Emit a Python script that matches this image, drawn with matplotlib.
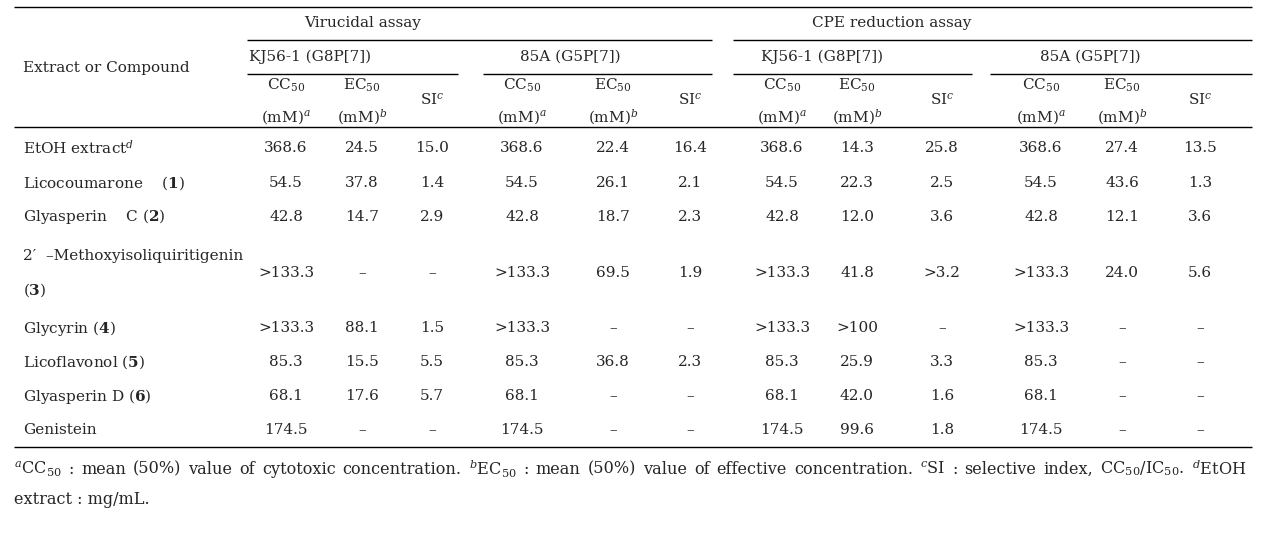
import matplotlib
matplotlib.use("Agg")
import matplotlib.pyplot as plt

plt.rcParams['font.family'] = ['DejaVu Serif']
plt.rcParams['mathtext.fontset'] = 'dejavuserif'

# ---- data ----
compounds = ["EtOH extract$^{d}$", "Licocoumarone    ($\\mathbf{1}$)", "Glyasperin    C ($\\mathbf{2}$)",
             "2\u2032  \u2013Methoxyisoliquiritigenin\n($\\mathbf{3}$)", "Glycyrin ($\\mathbf{4}$)",
             "Licoflavonol ($\\mathbf{5}$)", "Glyasperin D ($\\mathbf{6}$)", "Genistein"]
cc50 = ["368.6", "54.5", "42.8", ">133.3", ">133.3", "85.3", "68.1", "174.5"]
vir_kj_ec = ["24.5", "37.8", "14.7", "\u2013", "88.1", "15.5", "17.6", "\u2013"]
vir_kj_si = ["15.0", "1.4", "2.9", "\u2013", "1.5", "5.5", "5.7", "\u2013"]
vir_85_ec = ["22.4", "26.1", "18.7", "69.5", "\u2013", "36.8", "\u2013", "\u2013"]
vir_85_si = ["16.4", "2.1", "2.3", "1.9", "\u2013", "2.3", "\u2013", "\u2013"]
cpe_kj_ec = ["14.3", "22.3", "12.0", "41.8", ">100", "25.9", "42.0", "99.6"]
cpe_kj_si = ["25.8", "2.5", "3.6", ">3.2", "\u2013", "3.3", "1.6", "1.8"]
cpe_85_ec = ["27.4", "43.6", "12.1", "24.0", "\u2013", "\u2013", "\u2013", "\u2013"]
cpe_85_si = ["13.5", "1.3", "3.6", "5.6", "\u2013", "\u2013", "\u2013", "\u2013"]
assays = ["Virucidal assay", "CPE reduction assay"]
strains = ["KJ56-1 (G8P[7])", "85A (G5P[7])", "KJ56-1 (G8P[7])", "85A (G5P[7])"]
footnote1 = ("$^{a}$CC$_{50}$ : mean (50%) value of cytotoxic concentration. $^{b}$EC$_{50}$ : mean (50%) "
             "value of effective concentration. $^{c}$SI : selective index, CC$_{50}$/IC$_{50}$. $^{d}$EtOH")
footnote2 = "extract : mg/mL."

# ---- layout ----
W, H = 1271, 534
fig = plt.figure(figsize=(W/100, H/100), dpi=100)
ax = fig.add_axes([0, 0, 1, 1])
ax.set_xlim(0, W); ax.set_ylim(H, 0); ax.axis('off')
col = '#262626'
fs = 11

def hline(y, x0, x1):
    ax.plot([x0, x1], [y, y], color='black', lw=1.0, solid_capstyle='butt')

hline(7, 14, 1252)
hline(40, 247, 712); hline(40, 733, 1252)
spans = [(247, 458), (483, 712), (733, 972), (990, 1252)]
for s in spans:
    hline(74, *s)
hline(127, 14, 1252)
hline(447, 14, 1252)

ax.text(363, 23, assays[0], ha='center', va='center', fontsize=fs, color=col)
ax.text(892, 23, assays[1], ha='center', va='center', fontsize=fs, color=col)
centers = [310, 570, 822, 1090]
for c, s in zip(centers, strains):
    ax.text(c, 57, s, ha='center', va='center', fontsize=fs, color=col)
ax.text(23, 68, "Extract or Compound", ha='left', va='center', fontsize=fs, color=col)

colx = [(286, 362, 432), (522, 613, 690), (782, 857, 942), (1041, 1122, 1200)]
for (xc, xe, xs) in colx:
    ax.text(xc, 85, "CC$_{50}$", ha='center', va='center', fontsize=fs, color=col)
    ax.text(xc, 117, "(mM)$^{a}$", ha='center', va='center', fontsize=fs, color=col)
    ax.text(xe, 85, "EC$_{50}$", ha='center', va='center', fontsize=fs, color=col)
    ax.text(xe, 117, "(mM)$^{b}$", ha='center', va='center', fontsize=fs, color=col)
    ax.text(xs, 100, "SI$^{c}$", ha='center', va='center', fontsize=fs, color=col)

rows_y = [148, 183, 217, 273, 328, 362, 396, 430]
groups = [(vir_kj_ec, vir_kj_si), (vir_85_ec, vir_85_si), (cpe_kj_ec, cpe_kj_si), (cpe_85_ec, cpe_85_si)]
for i, y in enumerate(rows_y):
    name = compounds[i]
    if "\n" in name:
        l1, l2 = name.split("\n")
        ax.text(23, 256, l1, ha='left', va='center', fontsize=fs, color=col)
        ax.text(23, 290, l2, ha='left', va='center', fontsize=fs, color=col)
    else:
        ax.text(23, y, name, ha='left', va='center', fontsize=fs, color=col)
    for (xc, xe, xs), (ec, si) in zip(colx, groups):
        ax.text(xc, y, cc50[i], ha='center', va='center', fontsize=fs, color=col)
        ax.text(xe, y, ec[i], ha='center', va='center', fontsize=fs, color=col)
        ax.text(xs, y, si[i], ha='center', va='center', fontsize=fs, color=col)

# justified footnote line 1
renderer = fig.canvas.get_renderer()
words = footnote1.split(" ")
ffs = 11.6
texts, widths = [], []
for w in words:
    t = ax.text(0, 469, w, ha='left', va='center', fontsize=ffs, color=col)
    texts.append(t)
    bb = t.get_window_extent(renderer=renderer)
    widths.append(bb.width)
x0, x1 = 14, 1246
gap = (x1 - x0 - sum(widths)) / (len(words) - 1)
x = x0
for t, wdt in zip(texts, widths):
    t.set_x(x)
    x += wdt + gap
ax.text(14, 499, footnote2, ha='left', va='center', fontsize=ffs, color=col)

fig.savefig("out.png", dpi=100, facecolor='white')
